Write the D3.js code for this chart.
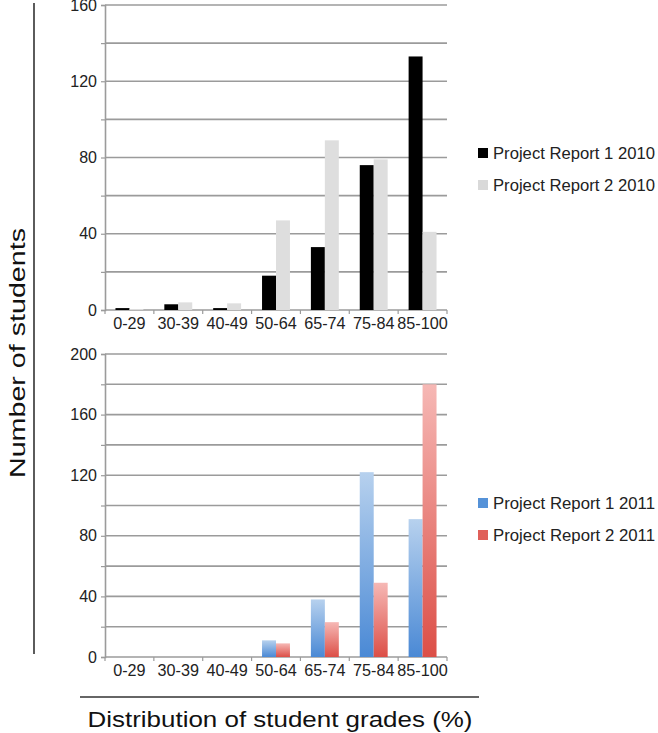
<!DOCTYPE html>
<html>
<head>
<meta charset="utf-8">
<script src="https://cdn.jsdelivr.net/npm/d3@7"></script>
<style>
    body { margin: 0; background: #fff; }
    svg { display: block; font-family: "Liberation Sans", Arial, sans-serif; }
</style>
</head>
<body>
<script>
"use strict";

var grades = ["0-29", "30-39", "40-49", "50-64", "65-74", "75-84", "85-100"];

var series2010 = ["Project Report 1 2010", "Project Report 2 2010"];
var report1_2010 = [1, 3, 1, 18, 33, 76, 133];
var report2_2010 = [0.5, 4, 3.5, 47, 89, 79, 41];

var series2011 = ["Project Report 1 2011", "Project Report 2 2011"];
var report1_2011 = [0, 0, 0, 11, 38, 122, 91];
var report2_2011 = [0, 0, 0, 9, 23, 49, 180];

var yTicks2010 = [0, 20, 40, 60, 80, 100, 120, 140, 160];
var yTicks2011 = [0, 20, 40, 60, 80, 100, 120, 140, 160, 180, 200];

function init() {
    var w = 658;
    var h = 733;

    var svg = d3.select("body")
        .append("svg")
        .attr("width", w)
        .attr("height", h);

    var defs = svg.append("defs");

    function gradient(id, top, bottom) {
        var g = defs.append("linearGradient")
            .attr("id", id)
            .attr("x1", 0).attr("y1", 0)
            .attr("x2", 0).attr("y2", 1);
        g.append("stop").attr("offset", "0%").attr("stop-color", top);
        g.append("stop").attr("offset", "100%").attr("stop-color", bottom);
    }
    gradient("blueGrad", "#b7d1ee", "#4a89d5");
    gradient("redGrad", "#f6b8b5", "#dc4f47");

    var x0 = d3.scaleBand()
        .domain(grades)
        .range([105, 447])
        .paddingInner(0);

    var x1 = d3.scaleBand()
        .domain([0, 1])
        .range([0, x0.bandwidth()])
        .paddingInner(0)
        .paddingOuter(0.75);

    function drawPanel(opts) {
        var y = d3.scaleLinear()
            .domain([0, opts.max])
            .range([opts.bottom, opts.top]);

        var g = svg.append("g");

        //Gridlines
        g.selectAll(".grid")
            .data(opts.ticks)
            .enter()
            .append("line")
            .attr("x1", 105)
            .attr("x2", 447)
            .attr("y1", function (d) { return y(d); })
            .attr("y2", function (d) { return y(d); })
            .attr("stroke", "#9b9b9b")
            .attr("stroke-width", 1.6);

        //Y axis
        var yAxis = d3.axisLeft(y)
            .tickValues(opts.ticks)
            .tickSize(4)
            .tickPadding(4)
            .tickFormat(function (d) { return d % 40 === 0 ? d : ""; });

        var ya = g.append("g")
            .attr("transform", "translate(105,0)")
            .call(yAxis);
        ya.select(".domain").attr("stroke", "#9b9b9b").attr("stroke-width", 1.6);
        ya.selectAll(".tick line").attr("stroke", "#9b9b9b").attr("stroke-width", 1.2);
        ya.selectAll("text")
            .attr("fill", "#222")
            .style("font-size", "16px")
            .style("font-family", "'Liberation Sans', Arial, sans-serif");

        //X axis
        var xAxis = d3.axisBottom(x0)
            .tickSize(0)
            .tickPadding(7);
        var xa = g.append("g")
            .attr("transform", "translate(0," + opts.bottom + ")")
            .call(xAxis);
        xa.select(".domain").remove();
        xa.selectAll("text")
            .attr("fill", "#222")
            .style("font-size", "16.2px")
            .style("font-family", "'Liberation Sans', Arial, sans-serif");

        //Category separators
        var seps = grades.map(function (d) { return x0(d); }).concat([x0.range()[1]]);
        g.selectAll(".sep")
            .data(seps)
            .enter()
            .append("line")
            .attr("x1", function (d) { return d; })
            .attr("x2", function (d) { return d; })
            .attr("y1", opts.bottom)
            .attr("y2", opts.bottom + 4)
            .attr("stroke", "#9b9b9b")
            .attr("stroke-width", 1.2);

        //Bars
        opts.values.forEach(function (vals, s) {
            g.selectAll(".bar" + s)
                .data(vals)
                .enter()
                .append("rect")
                .attr("x", function (d, i) { return x0(grades[i]) + x1(s); })
                .attr("y", function (d) { return y(d); })
                .attr("width", x1.bandwidth())
                .attr("height", function (d) { return opts.bottom - y(d); })
                .attr("fill", opts.fills[s]);
        });

        //Legend
        var lg = g.selectAll(".legend")
            .data(opts.names)
            .enter()
            .append("g")
            .attr("transform", function (d, i) {
                return "translate(478," + (opts.legendY + i * 32) + ")";
            });
        lg.append("rect")
            .attr("x", 0)
            .attr("y", -5)
            .attr("width", 10)
            .attr("height", 10)
            .attr("fill", function (d, i) { return opts.swatches[i]; });
        lg.append("text")
            .attr("x", 15)
            .attr("y", 6)
            .attr("fill", "#222")
            .style("font-size", "16.5px")
            .attr("textLength", 162)
            .attr("lengthAdjust", "spacingAndGlyphs")
            .text(function (d) { return d; });
    }

    drawPanel({
        max: 160, top: 5, bottom: 310,
        ticks: yTicks2010,
        values: [report1_2010, report2_2010],
        fills: ["#000000", "#dedede"],
        swatches: ["#000000", "#d9d9d9"],
        names: series2010,
        legendY: 153
    });

    drawPanel({
        max: 200, top: 354, bottom: 657,
        ticks: yTicks2011,
        values: [report1_2011, report2_2011],
        fills: ["url(#blueGrad)", "url(#redGrad)"],
        swatches: ["#5592d8", "#e0605a"],
        names: series2011,
        legendY: 503
    });

    //Outer axis titles with lines
    svg.append("line")
        .attr("x1", 34).attr("x2", 34)
        .attr("y1", 3).attr("y2", 654)
        .attr("stroke", "#333")
        .attr("stroke-width", 1.6);

    svg.append("text")
        .attr("transform", "translate(25,353) rotate(-90)")
        .attr("text-anchor", "middle")
        .attr("fill", "#111")
        .style("font-size", "22px")
        .attr("textLength", 250)
        .attr("lengthAdjust", "spacingAndGlyphs")
        .text("Number of students");

    svg.append("line")
        .attr("x1", 80).attr("x2", 479)
        .attr("y1", 697).attr("y2", 697)
        .attr("stroke", "#333")
        .attr("stroke-width", 1.6);

    svg.append("text")
        .attr("x", 280)
        .attr("y", 727)
        .attr("text-anchor", "middle")
        .attr("fill", "#111")
        .style("font-size", "22px")
        .attr("textLength", 385)
        .attr("lengthAdjust", "spacingAndGlyphs")
        .text("Distribution of student grades (%)");
}

window.onload = init;
</script>
</body>
</html>
